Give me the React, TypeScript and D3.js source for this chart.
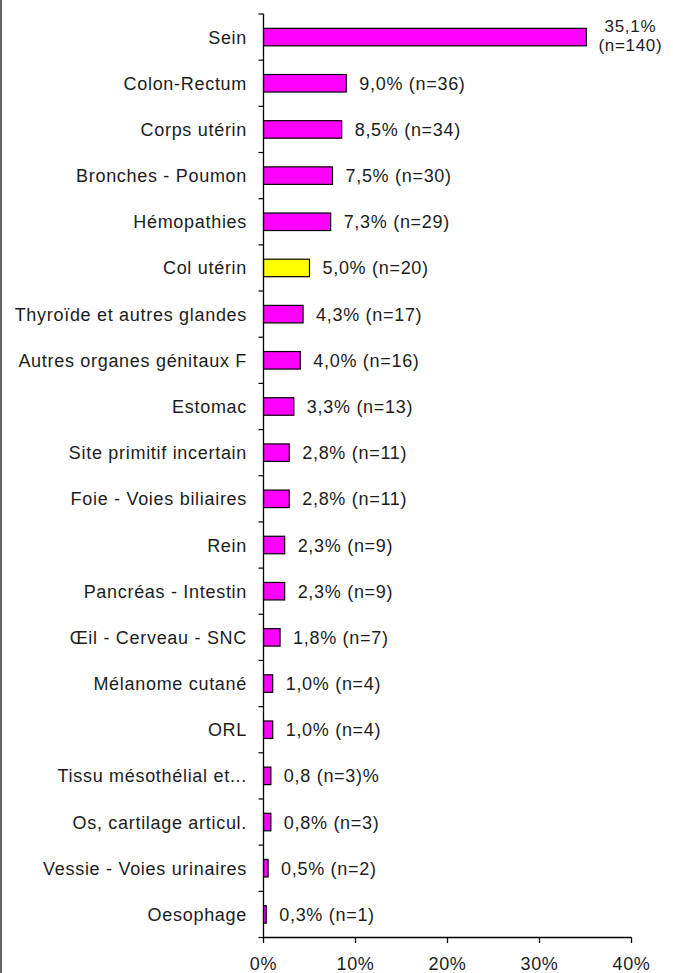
import React from "react";
import * as d3 from "d3";

const categories = [
  "Sein", "Colon-Rectum", "Corps utérin", "Bronches - Poumon", "Hémopathies",
  "Col utérin", "Thyroïde et autres glandes", "Autres organes génitaux F", "Estomac",
  "Site primitif incertain", "Foie - Voies biliaires", "Rein", "Pancréas - Intestin",
  "Œil - Cerveau - SNC", "Mélanome cutané", "ORL", "Tissu mésothélial et...",
  "Os, cartilage articul.", "Vessie - Voies urinaires", "Oesophage",
];
const percents = [35.1, 9.0, 8.5, 7.5, 7.3, 5.0, 4.3, 4.0, 3.3, 2.8, 2.8, 2.3, 2.3, 1.8, 1.0, 1.0, 0.8, 0.8, 0.5, 0.3];
const counts = [140, 36, 34, 30, 29, 20, 17, 16, 13, 11, 11, 9, 9, 7, 4, 4, 3, 3, 2, 1];
const valueLabels = [
  "35,1% (n=140)", "9,0% (n=36)", "8,5% (n=34)", "7,5% (n=30)", "7,3% (n=29)",
  "5,0% (n=20)", "4,3% (n=17)", "4,0% (n=16)", "3,3% (n=13)", "2,8% (n=11)",
  "2,8% (n=11)", "2,3% (n=9)", "2,3% (n=9)", "1,8% (n=7)", "1,0% (n=4)",
  "1,0% (n=4)", "0,8 (n=3)%", "0,8% (n=3)", "0,5% (n=2)", "0,3% (n=1)",
];
const highlighted = ["Col utérin"];
const xTicks = [0, 10, 20, 30, 40];

const W = 673;
const H = 973;
const FONT = "'Liberation Sans', Arial, sans-serif";

export default function App() {
  const x = d3.scaleLinear().domain([0, 40]).range([263.5, 631.5]);
  const y = d3.scaleBand<string>().domain(categories).range([14, 937.5]).paddingInner(0).paddingOuter(0);
  const bw = y.bandwidth();
  const barH = 17.5;
  const textStyle: React.CSSProperties = { fontFamily: FONT, fontSize: 18, letterSpacing: 0.7, fill: "#1c1c1c" };
  const smallStyle: React.CSSProperties = { ...textStyle, fontSize: 17 };

  return (
    <svg width={W} height={H} style={{ position: "absolute", left: 0, top: 0, background: "#fff" }}>
      <line x1={1} x2={1} y1={0} y2={H} stroke="#666" strokeWidth={2} />
      {categories.map((c, i) => {
        const cy = (y(c) as number) + bw / 2;
        const x0 = x(0);
        const x1 = x(percents[i]);
        const fill = highlighted.includes(c) ? "#FFFF00" : "#FF00FF";
        const parts = valueLabels[i].split(" ");
        return (
          <g key={c}>
            <rect x={x0} y={cy - barH / 2} width={x1 - x0} height={barH} fill={fill} stroke="#000" strokeWidth={1.2} />
            <text x={247} y={cy + 6.5} textAnchor="end" style={textStyle}>{c}</text>
            {i === 0 ? (
              <g>
                <text x={x1 + 44} y={cy - 5} textAnchor="middle" style={smallStyle}>{parts[0]}</text>
                <text x={x1 + 44} y={cy + 14} textAnchor="middle" style={smallStyle}>{parts[1]}</text>
              </g>
            ) : (
              <text x={x1 + 13} y={cy + 6.5} style={textStyle}>{valueLabels[i]}</text>
            )}
          </g>
        );
      })}
      {d3.range(categories.length + 1).map((k) => {
        const ty = 14 + k * bw;
        return <line key={"ct" + k} x1={x(0) - 5} x2={x(0)} y1={ty} y2={ty} stroke="#000" strokeWidth={1.2} />;
      })}
      <line x1={x(0)} x2={x(0)} y1={14} y2={937.5} stroke="#000" strokeWidth={1.3} />
      <line x1={x(0)} x2={x(40)} y1={937.5} y2={937.5} stroke="#000" strokeWidth={1.3} />
      {xTicks.map((t) => (
        <g key={"xt" + t}>
          <line x1={x(t)} x2={x(t)} y1={937.5} y2={943} stroke="#000" strokeWidth={1.3} />
          <text x={x(t)} y={969.5} textAnchor="middle" style={textStyle}>{t + "%"}</text>
        </g>
      ))}
      <text style={{ display: "none" }}>{counts.join(",")}</text>
    </svg>
  );
}
